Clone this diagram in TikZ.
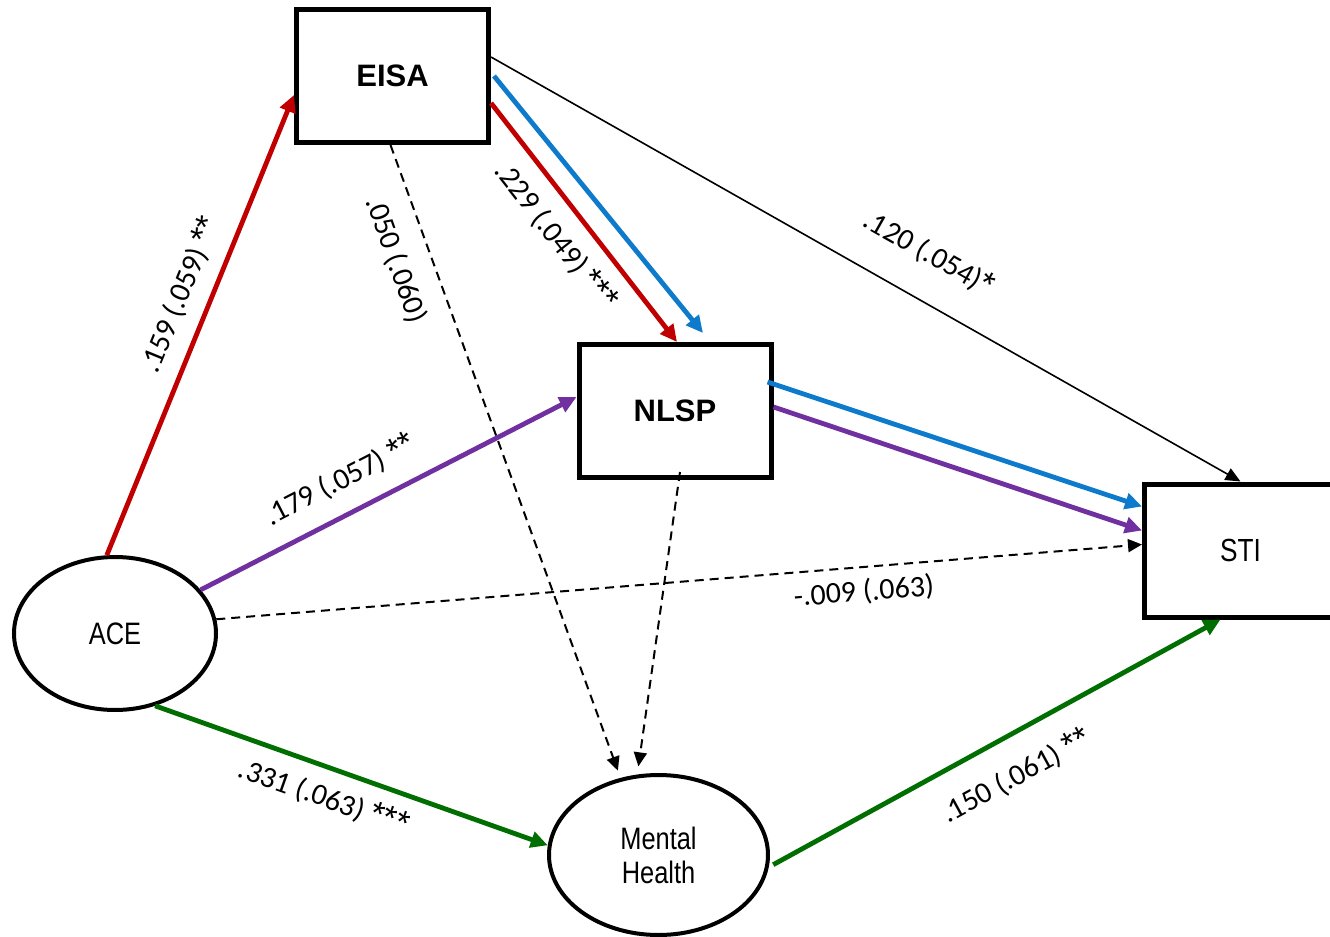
\documentclass[tikz,border=0pt]{standalone}
\usepackage{fontspec}
\setmainfont{Liberation Sans}
\newfontfamily\narrowfont[FakeStretch=0.82]{Liberation Sans}
\newfontfamily\coeffont{Carlito}
\newfontfamily\starfont{Liberation Sans}
\usepackage{xcolor}
\usetikzlibrary{arrows.meta,shapes.geometric,positioning,calc}
\definecolor{pathred}{RGB}{192,0,0}
\definecolor{pathblue}{RGB}{14,122,204}
\definecolor{pathpurple}{RGB}{112,48,160}
\definecolor{pathgreen}{RGB}{0,110,0}
\newcommand{\sig}[1]{{\starfont\fontsize{17}{18}\selectfont #1}}

\begin{document}
\begin{tikzpicture}[x=0.5pt,y=-0.5pt,
	box/.style={draw, line width=2.5pt, minimum width=96pt, minimum height=66.5pt, inner sep=0pt},
	oval/.style={draw, ellipse, line width=2pt, inner sep=0pt, font=\narrowfont\fontsize{15.5}{17}\selectfont, align=center},
	arr/.style={line width=2.4pt, -{Triangle[length=8.5pt,width=8pt]}},
	thinarr/.style={line width=0.8pt, -{Triangle[length=7.5pt,width=6.5pt]}},
	dsh/.style={line width=1pt, dash pattern=on 4.5pt off 3pt, -{Triangle[length=7pt,width=6.5pt]}},
	coef/.style={font=\coeffont\fontsize{15}{18}\selectfont, inner sep=0pt}]
	\useasboundingbox (0,0) rectangle (1330,937);
	
	%%%%%%%%%% caixas e elipses %%%%%%%%%%
	\node[box, font=\bfseries\fontsize{15.5}{18}\selectfont] (eisa) at (392.5,76) {EISA};
	\node[box, font=\bfseries\fontsize{15.5}{18}\selectfont] (nlsp) at (675,411) {NLSP};
	\node[box, font=\narrowfont\fontsize{16}{18}\selectfont] (sti) at (1240.5,550.5) {STI};
	\node[oval, minimum width=101pt, minimum height=76.5pt] (ace) at (115,633.5) {ACE};
	\node[oval, minimum width=109.5pt, minimum height=80pt] (mh) at (658.5,855) {Mental\\Health};
	
	%%%%%%%%%% caminhos coloridos %%%%%%%%%%
	\draw[arr, pathred] (ace.96) -- ([yshift=-9.5pt]eisa.west);
	\draw[arr, pathred] ([yshift=-13.5pt]eisa.east) -- ([xshift=1pt]nlsp.north);
	\draw[arr, pathblue] ([xshift=1.5pt]eisa.east) -- ([xshift=14pt,yshift=4.5pt]nlsp.north);
	\draw[arr, pathblue] ([xshift=-3pt,yshift=14.5pt]nlsp.east) -- ([yshift=22pt]sti.west);
	\draw[arr, pathpurple] ([yshift=2pt]nlsp.east) -- ([yshift=10pt]sti.west);
	\draw[arr, pathpurple] (ace.27) -- ([yshift=7pt]nlsp.west);
	\draw[arr, pathgreen] (ace.-61) -- (mh.175);
	\draw[arr, pathgreen] ([xshift=2pt]mh.-5) -- ([xshift=-10pt]sti.south);
	
	%%%%%%%%%% demais caminhos %%%%%%%%%%
	\draw[thinarr] ([yshift=9.5pt]eisa.east) -- (sti.north);
	\draw[dsh] ([xshift=-1pt]eisa.south) -- ([yshift=4pt]mh.118);
	\draw[dsh] ([xshift=2.5pt,yshift=4pt]nlsp.south) -- ([yshift=4pt]mh.104);
	\draw[dsh] (ace.8) -- ([yshift=3pt]sti.west);
	
	%%%%%%%%%% coeficientes %%%%%%%%%%
	\node[coef, rotate=67.7] (c1) at (180,295) {.159 (.059) \sig{**}};
	\node[coef, rotate=-51.9] (c2) at (556,236) {.229 (.049) \sig{***}};
	\node[coef, rotate=-70.5] (c3) at (396,260) {.050 (.060)};
	\node[coef, rotate=-29.4] (c4) at (929,253) {.120 (.054)\sig{*}};
	\node[coef, rotate=27.2] (c5) at (340,480) {.179 (.057) \sig{**}};
	\node[coef, rotate=4.65] (c6) at (864,592) {-.009 (.063)};
	\node[coef, rotate=-19.4] (c7) at (324,797) {.331 (.063) \sig{***}};
	\node[coef, rotate=28.6] (c8) at (1016,776) {.150 (.061) \sig{**}};
\end{tikzpicture}
\end{document}
